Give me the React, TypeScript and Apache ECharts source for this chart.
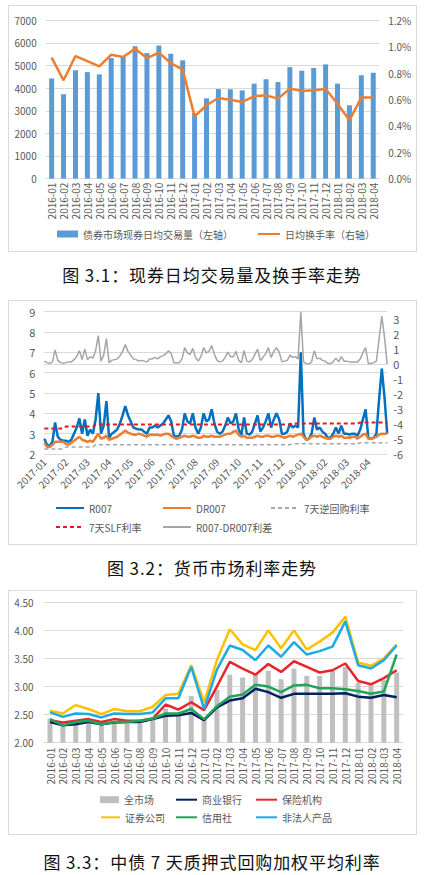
import { useEffect, useRef } from 'react';
import * as echarts from 'echarts';

const FONT = '"Noto Sans CJK SC", "Noto Sans", sans-serif';
const LABEL = '#595959';
const GRID_LINE = '#d9d9d9';

// 图 3.1 / 图 3.3 月份
const months = [
  '2016-01', '2016-02', '2016-03', '2016-04', '2016-05', '2016-06', '2016-07',
  '2016-08', '2016-09', '2016-10', '2016-11', '2016-12', '2017-01', '2017-02',
  '2017-03', '2017-04', '2017-05', '2017-06', '2017-07', '2017-08', '2017-09',
  '2017-10', '2017-11', '2017-12', '2018-01', '2018-02', '2018-03', '2018-04',
];

// 现券日均交易量（亿元，左轴）
const tradeVolume = [
  4430, 3730, 4790, 4710, 4610, 5330, 5380, 5850, 5550, 5890, 5520, 5230, 2900, 3550,
  3960, 3950, 3900, 4200, 4390, 4270, 4930, 4770, 4890, 5050, 4200, 3240, 4570, 4680,
];

// 日均换手率（%，右轴）
const turnoverRate = [
  0.917, 0.745, 0.929, 0.891, 0.851, 0.939, 0.922, 0.985, 0.914, 0.955, 0.876, 0.826, 0.472, 0.556,
  0.611, 0.598, 0.581, 0.624, 0.631, 0.606, 0.682, 0.664, 0.669, 0.679, 0.568, 0.442, 0.614, 0.614,
];

// 图 3.2 月份刻度，每月取 8 个观察点
const rateMonths = [
  '2017-01', '2017-02', '2017-03', '2017-04', '2017-05', '2017-06', '2017-07', '2017-08',
  '2017-09', '2017-10', '2017-11', '2017-12', '2018-01', '2018-02', '2018-03', '2018-04',
];
const SAMPLES = 8;
const rateDays = rateMonths.flatMap((m) => Array.from({ length: SAMPLES }, (_, k) => `${m}-${k}`));

const r007 = [
  2.75, 2.45, 2.4, 2.6, 3.55, 2.85, 2.7, 2.65,
  2.65, 2.6, 2.7, 3.0, 3.3, 3.75, 3.0, 3.7,
  2.9, 3.2, 3.0, 3.7, 5.0, 3.0, 3.4, 4.6,
  2.8, 3.0, 3.1, 3.2, 3.5, 3.9, 4.35, 3.9,
  3.6, 3.3, 3.25, 3.2, 3.2, 3.1, 3.0, 3.3,
  3.3, 3.4, 3.3, 3.4, 3.5, 3.7, 3.9, 3.6,
  2.9, 2.85, 2.9, 3.2, 4.0, 3.6, 3.5, 4.0,
  3.3, 3.0, 3.3, 4.0, 3.6, 3.7, 4.2, 3.5,
  3.1, 3.0, 3.1, 3.4, 3.8, 3.5, 3.6, 4.0,
  3.2, 2.95, 3.8, 3.0, 2.95, 3.1, 3.5, 3.9,
  3.1, 3.3, 3.6, 4.0, 3.3, 3.7, 4.0, 3.7,
  3.0, 3.0, 3.1, 3.5, 3.3, 3.4, 3.3, 7.0,
  3.0, 2.7, 2.75, 3.0, 3.8, 3.2, 3.3, 3.1,
  3.0, 2.8, 2.8, 3.0, 3.3, 3.0, 3.4, 3.0,
  3.0, 2.95, 3.0, 3.0, 2.9, 3.2, 3.7, 4.2,
  2.8, 2.75, 2.8, 3.0, 4.7, 6.2, 4.8, 3.0,
];

const dr007 = [
  2.55, 2.35, 2.35, 2.45, 2.6, 2.6, 2.6, 2.6,
  2.5, 2.45, 2.55, 2.65, 2.75, 2.85, 2.7, 2.65,
  2.6, 2.65, 2.6, 2.8, 3.0, 2.75, 2.8, 2.9,
  2.7, 2.75, 2.8, 2.85, 2.95, 3.05, 3.15, 3.05,
  3.0, 2.95, 2.95, 3.0, 2.95, 2.9, 2.85, 2.95,
  2.95, 2.95, 2.95, 2.9, 2.95, 3.0, 3.0, 2.9,
  2.8, 2.75, 2.8, 2.85, 2.9, 2.85, 2.85, 2.9,
  2.85, 2.8, 2.8, 2.9, 2.85, 2.85, 2.9, 2.85,
  2.85, 2.85, 2.9, 2.95, 3.0, 3.0, 3.1, 3.15,
  2.95, 2.85, 2.9, 2.8, 2.8, 2.8, 2.85, 2.9,
  2.85, 2.85, 2.9, 2.9, 2.85, 2.85, 2.9, 2.9,
  2.85, 2.8, 2.85, 2.9, 2.85, 2.9, 2.95, 3.0,
  2.85, 2.7, 2.75, 2.85, 2.9, 2.85, 2.9, 2.85,
  2.8, 2.75, 2.75, 2.85, 2.9, 2.85, 2.9, 2.8,
  2.8, 2.8, 2.85, 2.85, 2.75, 2.85, 2.95, 3.0,
  2.75, 2.75, 2.8, 2.85, 2.95, 3.0, 3.0, 3.0,
];

// R007-DR007 利差（右轴）
const spread = [
  0.2, 0.1, 0.05, 0.15, 0.95, 0.25, 0.1, 0.05,
  0.1, 0.15, 0.15, 0.3, 0.5, 0.9, 0.3, 1.0,
  0.3, 0.5, 0.4, 0.9, 1.9, 0.2, 0.6, 1.7,
  0.1, 0.25, 0.3, 0.35, 0.55, 0.85, 1.3, 0.85,
  0.6, 0.35, 0.3, 0.2, 0.25, 0.2, 0.15, 0.35,
  0.35, 0.45, 0.35, 0.5, 0.55, 0.7, 0.9, 0.7,
  0.1, 0.1, 0.1, 0.35, 1.1, 0.75, 0.65, 1.05,
  0.45, 0.2, 0.5, 1.1, 0.75, 0.85, 1.25, 0.65,
  0.25, 0.15, 0.2, 0.45, 0.8, 0.5, 0.5, 0.85,
  0.25, 0.1, 0.9, 0.2, 0.15, 0.3, 0.65, 1.0,
  0.25, 0.45, 0.7, 1.1, 0.45, 0.85, 1.1, 0.8,
  0.15, 0.2, 0.25, 0.6, 0.45, 0.5, 0.35, 3.5,
  0.15, 0.05, 0.0, 0.15, 0.9, 0.35, 0.4, 0.25,
  0.2, 0.05, 0.05, 0.15, 0.4, 0.15, 0.5, 0.2,
  0.2, 0.15, 0.15, 0.15, 0.15, 0.35, 0.75, 1.1,
  0.05, 0.05, 0.1, 0.2, 1.7, 3.2, 1.8, 0.0,
];

// 政策利率调整节点
const reverseRepo = [
  ['2017-01-0', 2.25], ['2017-01-7', 2.25], ['2017-02-0', 2.35], ['2017-03-2', 2.35],
  ['2017-03-3', 2.45], ['2017-12-3', 2.45], ['2017-12-4', 2.5], ['2018-03-4', 2.5],
  ['2018-03-5', 2.55], ['2018-04-7', 2.55],
];
const slfRate = [
  ['2017-01-0', 3.25], ['2017-01-7', 3.25], ['2017-02-0', 3.35], ['2017-03-2', 3.35],
  ['2017-03-3', 3.45], ['2017-12-3', 3.45], ['2017-12-4', 3.5], ['2018-03-4', 3.5],
  ['2018-03-5', 3.55], ['2018-04-7', 3.55],
];

// 图 3.3 中债 7 天质押式回购加权平均利率
const allMarket = [
  2.43, 2.33, 2.37, 2.34, 2.33, 2.34, 2.34, 2.34, 2.42, 2.61, 2.52, 2.83, 2.40, 2.94,
  3.21, 3.16, 3.21, 3.28, 3.13, 3.32, 3.19, 3.19, 3.28, 3.35, 3.07, 3.04, 3.12, 3.25,
];
const commercialBank = [
  2.37, 2.31, 2.33, 2.37, 2.33, 2.36, 2.37, 2.37, 2.42, 2.48, 2.49, 2.53, 2.40, 2.63,
  2.75, 2.79, 2.96, 2.90, 2.80, 2.87, 2.87, 2.87, 2.87, 2.88, 2.82, 2.80, 2.85, 2.81,
];
const insurance = [
  2.40, 2.36, 2.39, 2.42, 2.37, 2.42, 2.39, 2.39, 2.43, 2.68, 2.59, 2.72, 2.58, 3.00,
  3.44, 3.32, 3.21, 3.40, 3.26, 3.45, 3.35, 3.25, 3.29, 3.41, 3.10, 3.04, 3.15, 3.29,
];
const securities = [
  2.57, 2.52, 2.67, 2.60, 2.51, 2.60, 2.56, 2.56, 2.64, 2.85, 2.87, 3.38, 2.72, 3.47,
  4.02, 3.75, 3.65, 4.00, 3.68, 4.00, 3.66, 3.80, 3.96, 4.24, 3.43, 3.37, 3.50, 3.75,
];
const creditUnion = [
  2.42, 2.31, 2.37, 2.39, 2.33, 2.37, 2.37, 2.39, 2.43, 2.52, 2.52, 2.60, 2.42, 2.65,
  2.82, 2.86, 3.03, 3.00, 2.90, 3.02, 3.03, 2.97, 2.97, 2.95, 2.92, 2.87, 2.91, 3.57,
];
const nonLegal = [
  2.54, 2.46, 2.52, 2.51, 2.45, 2.52, 2.51, 2.51, 2.54, 2.79, 2.79, 3.35, 2.60, 3.30,
  3.73, 3.65, 3.47, 3.73, 3.53, 3.79, 3.57, 3.63, 3.71, 4.16, 3.38, 3.32, 3.47, 3.73,
];

const textStyle = { fontFamily: FONT, fontSize: 10, color: LABEL };

// 单个图例项，放在指定位置；折线图例隐藏中间的圆点
function legendAt(name: string, left: number, centerY: number, extra: any = {}) {
  return {
    data: [name],
    left,
    top: centerY - 7,
    padding: 0,
    itemGap: 0,
    itemWidth: 28,
    itemHeight: 10,
    itemStyle: { opacity: 0 },
    textStyle,
    ...extra,
  };
}

const barLegend = (w: number) => ({ icon: 'rect', itemWidth: w, itemHeight: 7, itemStyle: { opacity: 1 } });

const option1: any = {
  animation: false,
  textStyle: { fontFamily: FONT },
  grid: { left: 36.7, top: 14.3, width: 333.5, height: 158.3 },
  legend: [
    legendAt('债券市场现券日均交易量（左轴）', 48, 230, barLegend(21)),
    legendAt('日均换手率（右轴）', 248, 230, { itemWidth: 22 }),
  ],
  xAxis: {
    type: 'category',
    data: months,
    axisLine: { lineStyle: { color: GRID_LINE } },
    axisTick: { show: false },
    axisLabel: { ...textStyle, rotate: 90, interval: 0, margin: 4 },
  },
  yAxis: [
    {
      type: 'value',
      min: 0,
      max: 7000,
      interval: 1000,
      axisLine: { show: false },
      axisTick: { show: false },
      splitLine: { lineStyle: { color: GRID_LINE } },
      axisLabel: { ...textStyle, margin: 9, formatter: (v: number) => String(v) },
    },
    {
      type: 'value',
      min: 0,
      max: 1.2,
      interval: 0.2,
      axisLine: { show: false },
      axisTick: { show: false },
      splitLine: { show: false },
      axisLabel: { ...textStyle, margin: 9, formatter: (v: number) => `${v.toFixed(1)}%` },
    },
  ],
  series: [
    {
      name: '债券市场现券日均交易量（左轴）',
      type: 'bar',
      data: tradeVolume,
      barWidth: 5,
      itemStyle: { color: '#5B9BD5' },
    },
    {
      name: '日均换手率（右轴）',
      type: 'line',
      yAxisIndex: 1,
      data: turnoverRate,
      symbol: 'none',
      lineStyle: { color: '#ED7D31', width: 2.5 },
      itemStyle: { color: '#ED7D31' },
    },
  ],
};

const option2: any = {
  animation: false,
  textStyle: { fontFamily: FONT },
  grid: { left: 35.3, top: 10.7, width: 342.9, height: 142.3 },
  legend: [
    legendAt('R007', 46, 209),
    legendAt('DR007', 153, 209),
    legendAt('7天逆回购利率', 261, 209),
    legendAt('7天SLF利率', 46, 228),
    legendAt('R007-DR007利差', 153, 228),
  ],
  xAxis: {
    type: 'category',
    data: rateDays,
    boundaryGap: false,
    axisLine: { lineStyle: { color: GRID_LINE } },
    axisTick: { show: false },
    axisLabel: {
      ...textStyle,
      rotate: 45,
      margin: 6,
      interval: (index: number) => index % SAMPLES === 0,
      formatter: (v: string) => v.slice(0, 7),
    },
  },
  yAxis: [
    {
      type: 'value',
      min: 2,
      max: 9,
      interval: 1,
      axisLine: { show: false },
      axisTick: { show: false },
      splitLine: { lineStyle: { color: GRID_LINE } },
      axisLabel: { ...textStyle, fontSize: 11, margin: 9 },
    },
    {
      type: 'value',
      min: -6,
      max: 3.5,
      interval: 1,
      axisLine: { show: false },
      axisTick: { show: false },
      splitLine: { show: false },
      axisLabel: { ...textStyle, fontSize: 11, margin: 6, showMaxLabel: false },
    },
  ],
  series: [
    {
      name: 'R007',
      type: 'line',
      data: r007,
      symbol: 'none',
      lineStyle: { color: '#0070C0', width: 2.5 },
      itemStyle: { color: '#0070C0' },
    },
    {
      name: 'DR007',
      type: 'line',
      data: dr007,
      symbol: 'none',
      lineStyle: { color: '#ED7D31', width: 2.5 },
      itemStyle: { color: '#ED7D31' },
    },
    {
      name: '7天逆回购利率',
      type: 'line',
      data: reverseRepo,
      symbol: 'none',
      lineStyle: { color: '#A5A5A5', width: 1.5, type: [4, 3] },
      itemStyle: { color: '#A5A5A5' },
    },
    {
      name: '7天SLF利率',
      type: 'line',
      data: slfRate,
      symbol: 'none',
      lineStyle: { color: '#E41A1C', width: 2, type: [4, 3] },
      itemStyle: { color: '#E41A1C' },
    },
    {
      name: 'R007-DR007利差',
      type: 'line',
      yAxisIndex: 1,
      data: spread,
      symbol: 'none',
      lineStyle: { color: '#A5A5A5', width: 1.5 },
      itemStyle: { color: '#A5A5A5' },
    },
  ],
};

const repoLine = (name: string, data: number[], color: string) => ({
  name,
  type: 'line',
  data,
  symbol: 'none',
  lineStyle: { color, width: 2.5 },
  itemStyle: { color },
});

const option3: any = {
  animation: false,
  textStyle: { fontFamily: FONT },
  grid: { left: 34.6, top: 11.3, width: 359.5, height: 140.4 },
  legend: [
    legendAt('全市场', 91, 210.7, barLegend(19)),
    legendAt('商业银行', 166, 210.7, { itemWidth: 21 }),
    legendAt('保险机构', 246, 210.7, { itemWidth: 21 }),
    legendAt('证券公司', 91, 228.3, { itemWidth: 19 }),
    legendAt('信用社', 166, 228.3, { itemWidth: 21 }),
    legendAt('非法人产品', 246, 228.3, { itemWidth: 21 }),
  ],
  xAxis: {
    type: 'category',
    data: months,
    axisLine: { lineStyle: { color: GRID_LINE } },
    axisTick: { show: false },
    axisLabel: { ...textStyle, rotate: 90, interval: 0, margin: 5 },
  },
  yAxis: {
    type: 'value',
    min: 2,
    max: 4.5,
    interval: 0.5,
    axisLine: { show: false },
    axisTick: { show: false },
    splitLine: { lineStyle: { color: GRID_LINE } },
    axisLabel: { ...textStyle, margin: 10, formatter: (v: number) => v.toFixed(2) },
  },
  series: [
    {
      name: '全市场',
      type: 'bar',
      data: allMarket,
      barWidth: 5,
      itemStyle: { color: '#BFBFBF' },
    },
    repoLine('商业银行', commercialBank, '#002060'),
    repoLine('保险机构', insurance, '#E8262A'),
    repoLine('证券公司', securities, '#FFC000'),
    repoLine('信用社', creditUnion, '#1FA55A'),
    repoLine('非法人产品', nonLegal, '#1FAAE6'),
  ],
};

function EChart({ option, width, height }: { option: any; width: number; height: number }) {
  const chartRef = useRef<HTMLDivElement>(null);

  useEffect(() => {
    if (!chartRef.current) return;
    const chart = echarts.init(chartRef.current, null, { renderer: 'svg' });
    chart.setOption(option);
    return () => {
      chart.dispose();
    };
  }, [option]);

  return <div ref={chartRef} style={{ width, height }} />;
}

function Figure({ top, height, option, caption, captionY }: {
  top: number; height: number; option: any; caption: string; captionY: number;
}) {
  return (
    <>
      <div
        style={{
          position: 'absolute',
          left: 8,
          top,
          width: 409,
          height,
          border: `1px solid ${GRID_LINE}`,
          boxSizing: 'border-box',
        }}
      >
        <EChart option={option} width={407} height={height - 2} />
      </div>
      <div
        style={{
          position: 'absolute',
          left: 0,
          top: captionY - 11,
          width: 424,
          height: 22,
          lineHeight: '22px',
          textAlign: 'center',
          fontFamily: FONT,
          fontSize: 17,
          letterSpacing: 0.9,
          color: '#111',
        }}
      >
        {caption}
      </div>
    </>
  );
}

export default function App() {
  return (
    <div style={{ position: 'absolute', left: 0, top: 0, width: 424, height: 875, background: '#fff' }}>
      <Figure top={5} height={247} option={option1} caption="图 3.1：现券日均交易量及换手率走势" captionY={275} />
      <Figure top={300} height={245} option={option2} caption="图 3.2：货币市场利率走势" captionY={568} />
      <Figure top={590} height={245} option={option3} caption="图 3.3：中债 7 天质押式回购加权平均利率" captionY={862} />
    </div>
  );
}
